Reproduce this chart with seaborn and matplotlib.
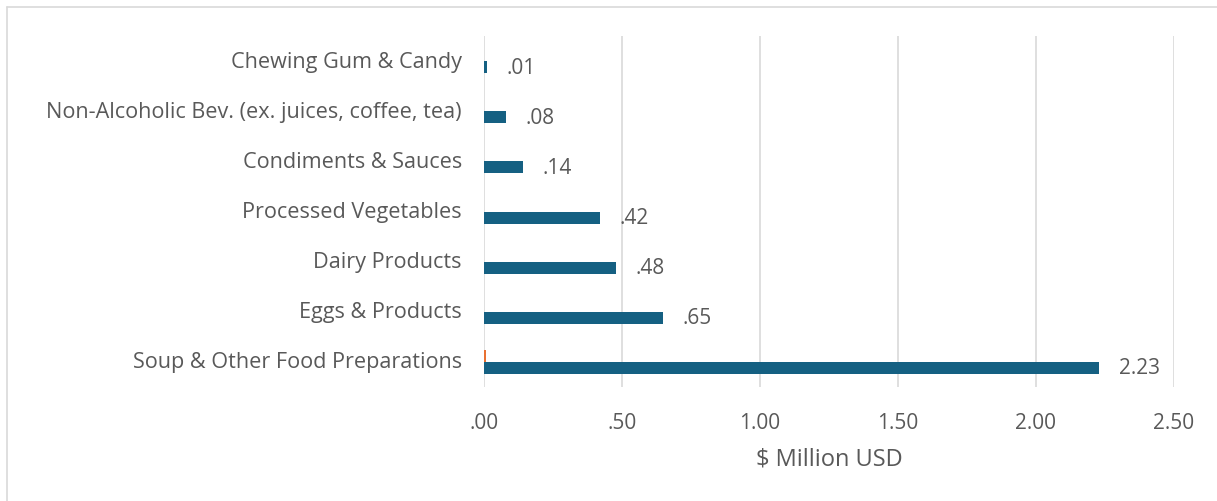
import matplotlib
matplotlib.use("Agg")
import matplotlib.pyplot as plt
import matplotlib.transforms as mtransforms
import seaborn as sns
import pandas as pd
from matplotlib.lines import Line2D

categories = [
    "Chewing Gum & Candy",
    "Non-Alcoholic Bev. (ex. juices, coffee, tea)",
    "Condiments & Sauces",
    "Processed Vegetables",
    "Dairy Products",
    "Eggs & Products",
    "Soup & Other Food Preparations",
]
series_names = ["Series 2", "Series 1"]
series1_values = [0.01, 0.08, 0.14, 0.42, 0.48, 0.65, 2.23]
series2_values = [0.0, 0.0, 0.0, 0.0, 0.0, 0.0, 0.008]
x_ticks = [0.0, 0.5, 1.0, 1.5, 2.0, 2.5]
x_tick_labels = [".00", ".50", "1.00", "1.50", "2.00", "2.50"]
x_label = "$ Million USD"

df = pd.DataFrame({
    "category": categories * 2,
    "value": series2_values + series1_values,
    "series": [series_names[0]] * len(categories) + [series_names[1]] * len(categories),
})

sns.set_style("white")
plt.rcParams["font.family"] = ["Open Sans", "DejaVu Sans"]
TXT = "#595959"
FS = 15

W, H = 1217, 502
fig = plt.figure(figsize=(W / 100, H / 100), dpi=100)
ax = fig.add_axes([484 / W, 1 - 388 / H, (1174 - 484) / W, (388 - 37) / H])

sns.barplot(data=df, x="value", y="category", hue="series", hue_order=series_names,
            order=categories, palette=["#E97132", "#156082"], width=0.48,
            dodge=True, orient="h", legend=False, ax=ax, saturation=1, linewidth=0)

ax.set_xlim(0, 2.5)
ax.set_ylim(6.5, -0.5)
ax.set_xticks(x_ticks)
ax.set_xticklabels(x_tick_labels)
ax.grid(axis="x", color="#D9D9D9", linewidth=1.2)
ax.grid(axis="y", visible=False)
ax.set_axisbelow(True)
for s in ax.spines.values():
    s.set_visible(False)
ax.tick_params(axis="both", length=0, colors=TXT)
ax.tick_params(axis="x", pad=18, labelsize=FS)
ax.tick_params(axis="y", pad=16, labelsize=15.6)
shift = mtransforms.ScaledTranslation(0, 2.5 / 100, fig.dpi_scale_trans)
for lab in ax.get_yticklabels():
    lab.set_transform(lab.get_transform() + shift)
ax.set_ylabel("")
ax.set_xlabel(x_label, color=TXT, fontsize=17, labelpad=10)

blue = ax.containers[1]
ax.bar_label(blue, labels=[f"{v:.2f}".lstrip("0") if v < 1 else f"{v:.2f}" for v in series1_values],
             padding=14, color=TXT, fontsize=FS)

fig.add_artist(Line2D([7 / W, 7 / W], [0, 1 - 8 / H], color="#D9D9D9", linewidth=1.2))
fig.add_artist(Line2D([7 / W, 1], [1 - 8 / H, 1 - 8 / H], color="#D9D9D9", linewidth=1.2))

fig.savefig("out.png", dpi=100)
